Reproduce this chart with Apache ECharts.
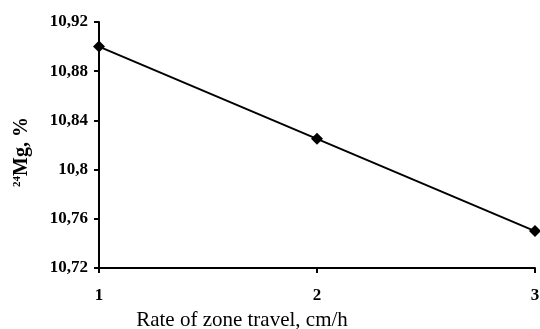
<!DOCTYPE html>
<html><head><meta charset="utf-8">
<script src="https://cdn.jsdelivr.net/npm/echarts@6/dist/echarts.min.js"></script>
<style>html,body{margin:0;padding:0;background:#fff}#c{width:540px;height:329px}</style>
</head><body><div id="c"></div>
<script>
var xValues = [1, 2, 3];
var yValues = [10.90, 10.825, 10.75];
var xTicks = [1, 2, 3];
var yTicks = [10.72, 10.76, 10.80, 10.84, 10.88, 10.92];

var chart = echarts.init(document.getElementById('c'));
var font = '"Liberation Serif", "Times New Roman", serif';
chart.setOption({
  animation: false,
  grid: {left: 99, right: 5, top: 22, bottom: 61, containLabel: false, outerBoundsMode: 'none'},
  xAxis: {
    type: 'value', min: xTicks[0], max: xTicks[xTicks.length-1], interval: 1,
    name: 'Rate of zone travel, cm/h', nameLocation: 'middle', nameGap: 42,
    nameTextStyle: {fontFamily: font, fontSize: 21, color: '#000', padding: [0, 150, 0, 0]},
    axisLine: {lineStyle: {color: '#000', width: 2}},
    axisTick: {show: true, length: 5, lineStyle: {color: '#000', width: 2}},
    axisLabel: {fontFamily: font, fontWeight: 'bold', fontSize: 17, color: '#000', margin: 19},
    splitLine: {show: false}
  },
  yAxis: {
    type: 'value', min: yTicks[0], max: yTicks[yTicks.length-1], interval: 0.04,
    name: '{sup|24}{b|Mg, %}', nameLocation: 'middle', nameGap: 67,
    nameTextStyle: {fontFamily: font, color: '#000', padding: [0, 14, 0, 0],
      rich: {
        sup: {fontFamily: font, fontWeight: 'bold', fontSize: 11, color: '#000', padding: [0,0,9,0]},
        b: {fontFamily: font, fontWeight: 'bold', fontSize: 20, color: '#000'}
      }},
    axisLine: {show: true, lineStyle: {color: '#000', width: 2}},
    axisTick: {show: true, length: 5, lineStyle: {color: '#000', width: 2}},
    axisLabel: {fontFamily: font, fontWeight: 'bold', fontSize: 17, color: '#000', margin: 11,
      formatter: function (v) { return String(+v.toFixed(2)).replace('.', ','); }},
    splitLine: {show: false}
  },
  series: [{
    type: 'line',
    data: xValues.map(function (x, i) { return [x, yValues[i]]; }),
    symbol: 'diamond', symbolSize: 12,
    lineStyle: {color: '#000', width: 2},
    itemStyle: {color: '#000'},
    clip: false
  }]
});
</script></body></html>
